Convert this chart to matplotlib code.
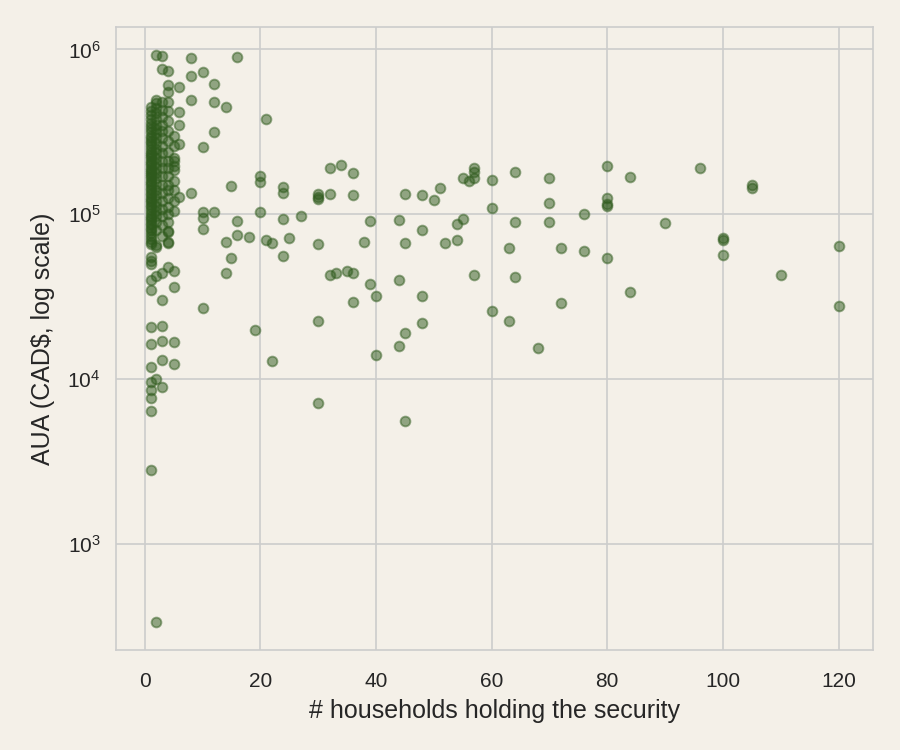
import matplotlib
matplotlib.use("Agg")
import matplotlib.pyplot as plt
import seaborn as sns
import numpy as np

# households holding each security, and assets under administration (CAD$)
# dense cluster at 1-5 households, values in thousands
h1 = [450, 420, 400, 380, 360, 345, 330, 315, 300, 290, 280, 270, 260, 250, 240,
      232, 225, 218, 210, 204, 198, 192, 186, 180, 175, 170, 165, 160, 155, 150,
      145, 140, 135, 130, 126, 122, 118, 114, 110, 106, 102, 98, 95, 92, 89, 86,
      83, 80, 77, 74, 71, 68, 66, 55, 52, 50, 40, 34.6, 20.6, 16.3, 11.8, 9.6,
      8.6, 7.7, 6.4, 2.8]
h2 = [920, 490, 470, 440, 410, 380, 350, 330, 310, 290, 270, 250, 235, 220, 205,
      190, 178, 165, 152, 140, 130, 120, 112, 104, 97, 90, 80, 65, 63, 42, 10,
      0.337]
h3 = [910, 757, 477, 430, 390, 350, 320, 290, 260, 235, 210, 190, 170, 150, 135,
      120, 108, 98, 86, 74, 44, 30, 20.9, 17, 13, 8.95]
h4 = [735, 605, 548, 477, 420, 370, 320, 280, 240, 210, 190, 170, 150, 140, 125,
      110, 100, 90, 79, 78, 68, 67, 47.7]
h5 = [300, 260, 220, 210, 195, 185, 160, 140, 120, 105, 45, 36, 16.8, 12.3]

# securities held by more than 5 households: (households, AUA in thousands)
wide_x = [16, 8, 8, 10, 12, 6, 8, 12, 14, 6, 6, 12, 6, 10, 21, 20, 20, 15, 8, 6,
          10, 12, 16, 20, 10, 10, 14, 16, 18, 15, 14, 10, 19, 21, 22, 24, 24, 30,
          30, 30, 32, 34, 36, 32, 36, 24, 27, 25, 24, 30, 38, 39, 44, 45, 48, 50,
          51, 55, 56, 57, 57, 57, 60, 60, 45, 48, 52, 54, 54, 55, 32, 33, 35, 36,
          39, 40, 36, 44, 48, 48, 45, 44, 30, 57, 60, 45, 30, 40, 22, 64, 70, 70,
          80, 84, 80, 80, 80, 76, 96, 64, 70, 90, 100, 100, 100, 63, 72, 76, 80,
          64, 84, 72, 63, 68, 105, 105, 110, 120, 120]
wide_y = [895, 882, 685, 726, 614, 589, 491, 477, 445, 415, 346, 314, 266, 255,
          376, 170, 156, 148, 134, 127, 103, 103, 91, 103, 95, 81, 68, 75, 73, 54,
          44, 27, 20, 69.5, 67, 146, 134, 132, 127, 123, 190, 198, 177, 132, 130,
          93, 97, 72, 55.6, 65.8, 67.6, 90.8, 92, 132, 130, 121.6, 144, 165, 158,
          190, 181, 165, 161, 109, 66.7, 80, 66.7, 69.5, 87, 93, 43, 44, 45, 44,
          37.7, 31.8, 29.3, 40, 31.8, 22, 19, 15.8, 22.5, 42.7, 25.8, 5.6, 7.2,
          14, 12.8, 180, 165, 117, 195, 168, 125, 115, 112, 101, 190, 90, 90, 88,
          72, 69.5, 57, 62, 62, 60, 54, 41.5, 34, 28.9, 22.5, 15.4, 150, 144, 43,
          64, 27.7]

xs = [1] * len(h1) + [2] * len(h2) + [3] * len(h3) + [4] * len(h4) + [5] * len(h5) + wide_x
ys = np.array(h1 + h2 + h3 + h4 + h5 + wide_y) * 1000

sns.set_style("whitegrid")
bg = "#f4f0e8"
plt.rcParams["font.family"] = ["Liberation Sans", "DejaVu Sans"]

fig = plt.figure(figsize=(6, 5), dpi=150, facecolor=bg)
ax = fig.add_axes([0.129, 0.133, 0.841, 0.831])
ax.set_facecolor(bg)
ax.scatter(xs, ys, s=22, color="#2e5a1c", alpha=0.5, linewidths=0.9,
           edgecolors="#2e5a1c")
ax.set_yscale("log")
ax.set_xticks([0, 20, 40, 60, 80, 100, 120])
ax.set_xlabel("# households holding the security", fontsize=12, color="#262626",
              labelpad=4)
ax.set_ylabel("AUA (CAD$, log scale)", fontsize=12, color="#262626", labelpad=6)
ax.tick_params(axis="x", labelsize=10, colors="#262626", pad=7)
ax.tick_params(axis="y", labelsize=10, colors="#262626", pad=4)
for s in ax.spines.values():
    s.set_color("#cccccc")

fig.savefig("out.png", dpi=150, facecolor=bg)
